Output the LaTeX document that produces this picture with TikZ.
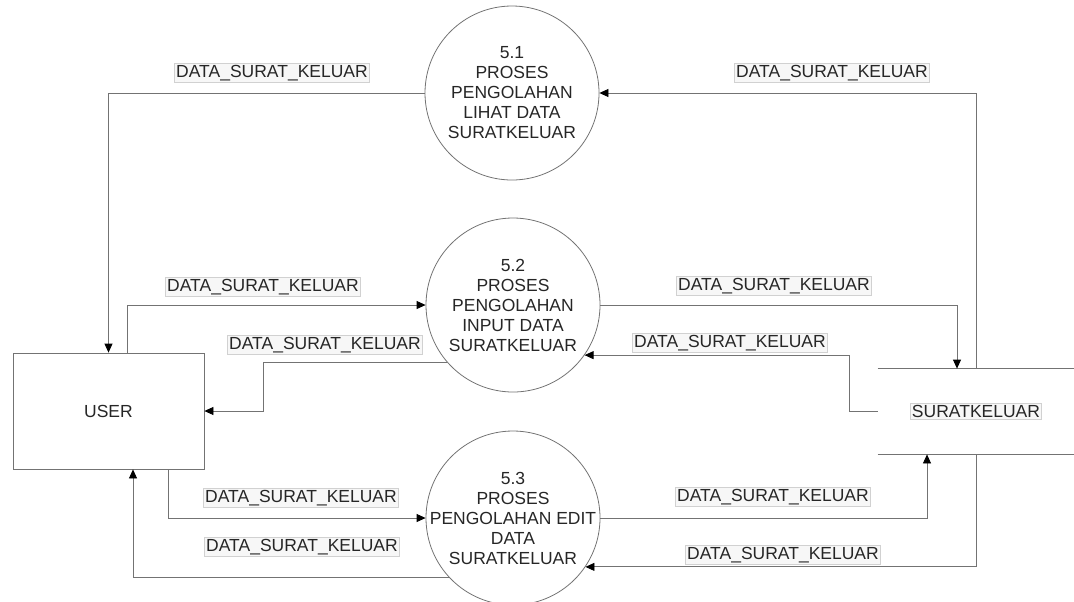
\documentclass[tikz,border=0pt]{standalone}
\usepackage{fontspec}
\setmainfont{Liberation Sans}
\usetikzlibrary{arrows.meta,calc}
\tikzset{
  every node/.style={font=\fontsize{8.75}{10}\selectfont,text=black!85},
  entity/.style={rectangle,draw=black!55,minimum width=95.5pt,minimum height=58pt},
  proc/.style={circle,draw=black!55,minimum size=87pt,inner sep=0pt},
  proctext/.style={align=center,inner sep=0pt},
  storebox/.style={minimum width=98pt,minimum height=42.5pt,inner sep=0pt},
  storeline/.style={draw=black!55},
  flow/.style={draw=black!55,-{Triangle[length=4.5pt,width=4pt,color=black]}},
  flowlabel/.style={draw=black!18,fill=black!3,inner sep=0.8pt}
}
\begin{document}
\begin{tikzpicture}[x=0.5pt,y=-0.5pt]
  \useasboundingbox (0,0) rectangle (1074,601);
  % external entity, processes and data store
  \node[entity] (user) at (108.5,411) {USER};
  \node[proc,label={[proctext]center:5.1\\PROSES\\PENGOLAHAN\\LIHAT DATA\\SURATKELUAR}] (p51) at (512,93) {};
  \node[proc,label={[proctext]center:5.2\\PROSES\\PENGOLAHAN\\INPUT DATA\\SURATKELUAR}] (p52) at (513,305) {};
  \node[proc,label={[proctext]center:5.3\\PROSES\\PENGOLAHAN EDIT\\DATA\\SURATKELUAR}] (p53) at (513,518) {};
  \node[storebox,label={[flowlabel]center:SURATKELUAR}] (store) at (976,411.5) {};
  \draw[storeline] (store.north west) -- (store.north east);
  \draw[storeline] (store.south west) -- (store.south east);
  % data flows
  \draw[flow] (p51.west) -| (user.north);
  \draw[flow] ($(user.north)+(18.5,0)$) |- (p52.west);
  \draw[flow] (p52.221) -| ($(user.east)+(59,0)$) -- (user.east);
  \draw[flow] ($(user.south)+(59.5,0)$) |- (p53.west);
  \draw[flow] (p53.223) -| ($(user.south)+(24.5,0)$);
  \draw[flow] (store.north) |- (p51.east);
  \draw[flow] (p52.east) -| ($(store.north)+(-19,0)$);
  \draw[flow] (store.west) -- ++(-28,0) |- (p52.-35);
  \draw[flow] (p53.east) -| ($(store.south)+(-49,0)$);
  \draw[flow] (store.south) |- (p53.-34);
  % flow labels
  \node[flowlabel] (l1) at (272,73) {DATA\_SURAT\_KELUAR};
  \node[flowlabel] (l2) at (263,287) {DATA\_SURAT\_KELUAR};
  \node[flowlabel] (l3) at (325,345) {DATA\_SURAT\_KELUAR};
  \node[flowlabel] (l4) at (301,498) {DATA\_SURAT\_KELUAR};
  \node[flowlabel] (l5) at (302,547) {DATA\_SURAT\_KELUAR};
  \node[flowlabel] (l6) at (832,73) {DATA\_SURAT\_KELUAR};
  \node[flowlabel] (l7) at (774,286) {DATA\_SURAT\_KELUAR};
  \node[flowlabel] (l8) at (730,343) {DATA\_SURAT\_KELUAR};
  \node[flowlabel] (l9) at (773,497) {DATA\_SURAT\_KELUAR};
  \node[flowlabel] (l10) at (783,555) {DATA\_SURAT\_KELUAR};
\end{tikzpicture}
\end{document}
